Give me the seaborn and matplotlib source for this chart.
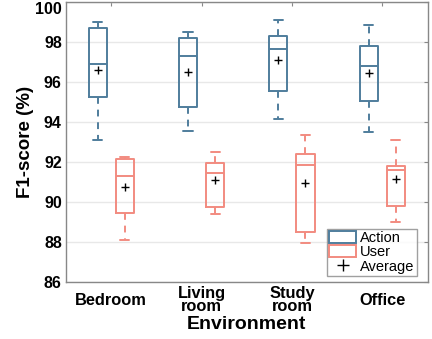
import numpy as np
import pandas as pd
import matplotlib
matplotlib.use("Agg")
import matplotlib.pyplot as plt
import matplotlib.transforms as mtransforms
from matplotlib.patches import Patch
from matplotlib.lines import Line2D
import seaborn as sns

categories = ["Bedroom", "Living\nroom", "Study\nroom", "Office"]
series = ["Action", "User"]

# five-number summaries: whisker low, Q1, median, Q3, whisker high
action_low = [93.12, 93.54, 94.15, 93.52]
action_q1 = [95.23, 94.73, 95.55, 95.05]
action_med = [96.91, 97.30, 97.65, 96.82]
action_q3 = [98.71, 98.20, 98.31, 97.82]
action_high = [99.01, 98.50, 99.09, 98.83]
action_mean = [96.62, 96.51, 97.09, 96.47]

user_low = [88.11, 89.41, 87.93, 89.01]
user_q1 = [89.44, 89.76, 88.51, 89.78]
user_med = [91.32, 91.45, 91.87, 91.60]
user_q3 = [92.13, 91.96, 92.39, 91.82]
user_high = [92.26, 92.49, 93.34, 93.11]
user_mean = [90.75, 91.08, 90.97, 91.13]

yticks = [86, 88, 90, 92, 94, 96, 98, 100]

blue = "#4f7d9c"
red = "#f28b80"

rows = []
for name, arrs in [("Action", (action_low, action_q1, action_med, action_q3, action_high)),
                   ("User", (user_low, user_q1, user_med, user_q3, user_high))]:
    for i, cat in enumerate(categories):
        for a in arrs:
            rows.append({"Environment": cat, "Type": name, "F1": a[i]})
df = pd.DataFrame(rows)

mrows = []
for name, m in [("Action", action_mean), ("User", user_mean)]:
    for i, cat in enumerate(categories):
        mrows.append({"Environment": cat, "Type": name, "F1": m[i]})
mdf = pd.DataFrame(mrows)

sns.set_style("white")
plt.rcParams["font.family"] = ["Liberation Sans", "DejaVu Sans"]
plt.rcParams["text.color"] = "black"
plt.rcParams["axes.labelcolor"] = "black"
plt.rcParams["xtick.labelcolor"] = "black"
plt.rcParams["ytick.labelcolor"] = "black"

fig = plt.figure(figsize=(4.32, 3.39), dpi=100)
ax = fig.add_axes([66 / 432, 1 - 282 / 339, (427.5 - 66) / 432, (282 - 2) / 339])

ax.set_axisbelow(True)
ax.yaxis.grid(True, color="#e8e8e8", linewidth=1.0)

sns.boxplot(data=df, x="Environment", y="F1", hue="Type", order=categories,
            hue_order=series, palette=[blue, red], fill=False, width=0.6, gap=0.33,
            whis=(0, 100), linewidth=1.4, legend=False, ax=ax,
            whiskerprops={"linestyle": (0, (3.5, 3))}, showfliers=False)

sns.pointplot(data=mdf, x="Environment", y="F1", hue="Type", order=categories,
              hue_order=series, palette=["black", "black"], markers="+",
              linestyle="none", dodge=0.3, legend=False, ax=ax,
              markersize=6, markeredgewidth=1.0, errorbar=None)

ax.set_xlim(-0.5, 3.5)
ax.set_ylim(86, 100)
ax.set_yticks(yticks)
ax.set_yticklabels([str(t) for t in yticks], fontsize=11.5, fontweight="bold", color="black")
ax.set_xticks(range(len(categories)))
ax.set_xticklabels(categories, fontsize=11.8, fontweight="bold", linespacing=0.86,
                   va="center", color="black")
ax.tick_params(axis="both", direction="in", length=3, color="#888888", top=True, right=True)
ax.tick_params(axis="x", pad=13)
ax.tick_params(axis="y", pad=3)
# keep the top "100" label inside the figure, as in the reference
lbl = ax.get_yticklabels()[-1]
lbl.set_transform(lbl.get_transform() + mtransforms.ScaledTranslation(0, -6 / 100, fig.dpi_scale_trans))
for s in ax.spines.values():
    s.set_visible(True)
    s.set_color("#888888")
    s.set_linewidth(1.0)

ax.set_xlabel("Environment", fontsize=14, fontweight="bold", labelpad=1, color="black")
ax.set_ylabel("F1-score (%)", fontsize=13.5, fontweight="bold", labelpad=1, color="black")

handles = [Patch(facecolor="white", edgecolor=blue, linewidth=1.4),
           Patch(facecolor="white", edgecolor=red, linewidth=1.4),
           Line2D([], [], marker="+", color="black", linestyle="none", markersize=8,
                  markeredgewidth=1.0)]
leg = ax.legend(handles, ["Action", "User", "Average"], loc="lower right",
                bbox_to_anchor=(0.970, 0.0225), borderaxespad=0, fontsize=10.5,
                frameon=True, fancybox=False, handlelength=1.8, handleheight=0.85,
                labelspacing=0.02, handletextpad=0.3, borderpad=0.15)
leg.get_frame().set_edgecolor("#888888")
leg.get_frame().set_linewidth(1.0)
for t in leg.get_texts():
    t.set_color("black")

fig.savefig("out.png", dpi=100)
